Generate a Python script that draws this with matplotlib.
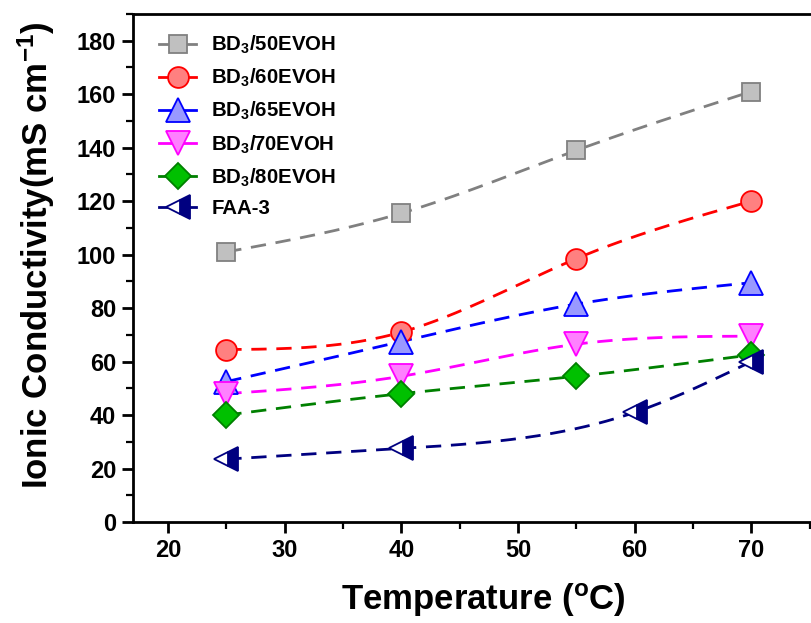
import numpy as np
import matplotlib
matplotlib.use("Agg")
import matplotlib.pyplot as plt
from matplotlib.ticker import MultipleLocator

plt.rcParams['font.family'] = ['Liberation Sans', 'DejaVu Sans']
plt.rcParams['font.weight'] = 'bold'
plt.rcParams['mathtext.fontset'] = 'custom'
plt.rcParams['mathtext.rm'] = 'Liberation Sans:bold'
plt.rcParams['mathtext.bf'] = 'Liberation Sans:bold'
plt.rcParams['mathtext.default'] = 'bf'

# Ionic conductivity (mS/cm) versus temperature (°C)
temps_bd = [25, 40, 55, 70]
temps_faa = [25, 40, 60, 70]
bd50 = [101, 115.5, 139, 161]
bd60 = [64.5, 71, 98.5, 120]
bd65 = [52.5, 67.5, 81.5, 89.5]
bd70 = [48, 54.5, 66.5, 69.5]
bd80 = [40, 48, 54.5, 62.5]
faa3 = [23.5, 27.5, 41, 60]

labels = ['BD$_3$/50EVOH', 'BD$_3$/60EVOH', 'BD$_3$/65EVOH',
          'BD$_3$/70EVOH', 'BD$_3$/80EVOH', 'FAA-3']


def natural_spline(x, y, n=200):
    """Smooth connecting curve through the points (natural cubic spline)."""
    x = np.asarray(x, float)
    y = np.asarray(y, float)
    k = len(x)
    h = np.diff(x)
    A = np.zeros((k, k))
    b = np.zeros(k)
    A[0, 0] = A[-1, -1] = 1
    for i in range(1, k - 1):
        A[i, i - 1] = h[i - 1]
        A[i, i] = 2 * (h[i - 1] + h[i])
        A[i, i + 1] = h[i]
        b[i] = 6 * ((y[i + 1] - y[i]) / h[i] - (y[i] - y[i - 1]) / h[i - 1])
    M = np.linalg.solve(A, b)
    xs = np.linspace(x[0], x[-1], n)
    idx = np.clip(np.searchsorted(x, xs) - 1, 0, k - 2)
    x0, x1 = x[idx], x[idx + 1]
    hh = x1 - x0
    t0, t1 = x1 - xs, xs - x0
    ys = (M[idx] * t0**3 / (6 * hh) + M[idx + 1] * t1**3 / (6 * hh)
          + (y[idx] / hh - M[idx] * hh / 6) * t0
          + (y[idx + 1] / hh - M[idx + 1] * hh / 6) * t1)
    return xs, ys


series = [
    (temps_bd, bd50, dict(color='#808080', marker='s', ms=12.5, mfc='#c0c0c0', mec='#808080')),
    (temps_bd, bd60, dict(color='#ff0000', marker='o', ms=15, mfc='#ff8080', mec='#ff0000')),
    (temps_bd, bd65, dict(color='#0000ff', marker='^', ms=17, mfc='#9999ff', mec='#0000ff')),
    (temps_bd, bd70, dict(color='#ff00ff', marker='v', ms=17, mfc='#ff80ff', mec='#ff00ff')),
    (temps_bd, bd80, dict(color='#008000', marker='D', ms=13, mfc='#00c000', mec='#008000')),
    (temps_faa, faa3, dict(color='#000080', marker='<', ms=17, mfc='#000080', mec='#000080',
                           fillstyle='right', markerfacecoloralt='white')),
]

fig = plt.figure(figsize=(8.12, 6.23), dpi=100)
ax = fig.add_axes([133 / 812, (623 - 522) / 623, (833 - 133) / 812, (522 - 14) / 623])

handles = []
for (xv, yv, st), lab in zip(series, labels):
    xs, ys = natural_spline(xv, yv)
    ax.plot(xs, ys, color=st['color'], lw=2.0, ls=(0, (5.5, 3.5)), zorder=2)
    extra = {k: v for k, v in st.items() if k not in ('color',)}
    ax.plot(xv, yv, ls='none', mew=1.3, zorder=3, **extra)
    h, = ax.plot([], [], color=st['color'], lw=2.0, ls='-', mew=1.3, **extra)
    handles.append(h)

ax.set_xlim(17, 77)
ax.set_ylim(0, 190)
ax.xaxis.set_major_locator(MultipleLocator(10))
ax.xaxis.set_minor_locator(MultipleLocator(5))
ax.yaxis.set_major_locator(MultipleLocator(20))
ax.yaxis.set_minor_locator(MultipleLocator(10))
ax.tick_params(which='major', direction='out', length=8, width=2.0, labelsize=17, pad=4)
ax.tick_params(which='minor', direction='out', length=5, width=1.6)
ax.tick_params(top=False, right=False)
for sp in ax.spines.values():
    sp.set_linewidth(2.0)
for lbl in ax.get_xticklabels() + ax.get_yticklabels():
    lbl.set_fontweight('bold')

ax.set_xlabel('Temperature ($^\\mathregular{o}$C)', fontsize=25, fontweight='bold', labelpad=14)
ax.set_ylabel('Ionic Conductivity(mS cm$^{-1}$)', fontsize=25, fontweight='bold')
ax.yaxis.set_label_coords(-0.108, 0.525)

leg = ax.legend(handles, labels, loc='upper left', bbox_to_anchor=(0.02, 0.985),
                frameon=False, fontsize=14.7, handlelength=1.8, handletextpad=0.75,
                labelspacing=0.53, borderaxespad=0.2)
for t in leg.get_texts():
    t.set_fontweight('bold')

fig.savefig('out.png', dpi=100)
